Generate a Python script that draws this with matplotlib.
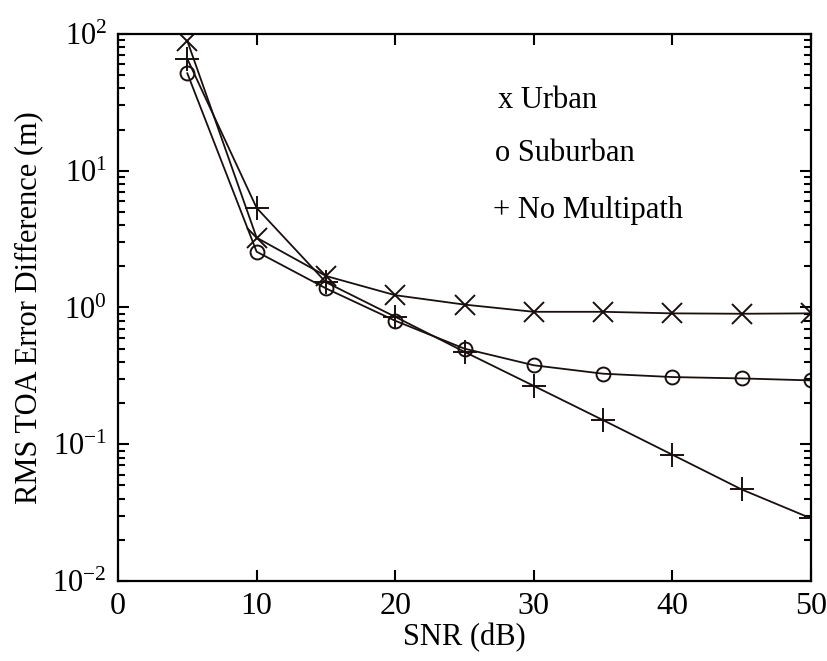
import math
import matplotlib
matplotlib.use('Agg')
import matplotlib.pyplot as plt
from matplotlib.ticker import FuncFormatter

# SNR in dB
snr = [5, 10, 15, 20, 25, 30, 35, 40, 45, 50]

# RMS TOA error difference (m)
urban = [89, 3.24, 1.70, 1.23, 1.05, 0.93, 0.93, 0.906, 0.90, 0.906]
suburban = [51.6, 2.56, 1.38, 0.80, 0.50, 0.378, 0.328, 0.31, 0.303, 0.293]
no_multipath = [65.8, 5.35, 1.53, 0.855, 0.474, 0.267, 0.150, 0.0838, 0.0467, 0.0287]

plt.rcParams['font.family'] = ['Liberation Serif', 'DejaVu Serif']
plt.rcParams['mathtext.fontset'] = 'custom'
plt.rcParams['mathtext.rm'] = 'Liberation Serif'
plt.rcParams['mathtext.it'] = 'Liberation Serif:italic'
plt.rcParams['mathtext.bf'] = 'Liberation Serif:bold'

fig = plt.figure(figsize=(8.27, 6.61), dpi=100)
ax = fig.add_axes([0.1427, 0.121, 0.838, 0.8276])

col = '#1a0f0f'
ax.plot(snr, urban, color=col, lw=1.3, marker='x', ms=14, mew=1.4)
ax.plot(snr, suburban, color=col, lw=1.3, marker='o', ms=10, mew=1.4, mfc='none')
ax.plot(snr, no_multipath, color=col, lw=1.3, marker='+', ms=17, mew=1.4)

ax.set_yscale('log')
ax.set_xlim(0, 50)
ax.set_ylim(1e-2, 1e2)
ax.set_xticks([0, 10, 20, 30, 40, 50])


def log_label(v, pos):
    e = int(round(math.log10(v)))
    return r'$\mathregular{10^{%d}}$' % e


ax.yaxis.set_major_formatter(FuncFormatter(log_label))

ax.tick_params(which='both', direction='in', top=True, right=True, width=1.5, color='black')
ax.tick_params(axis='x', labelsize=23)
ax.tick_params(axis='y', labelsize=22)
ax.tick_params(which='major', length=8, pad=8)
ax.tick_params(which='minor', length=5)
for s in ax.spines.values():
    s.set_linewidth(1.6)

ax.set_xlabel('SNR (dB)', fontsize=22, labelpad=1)
ax.set_ylabel('RMS TOA Error Difference (m)', fontsize=22)
ax.yaxis.set_label_coords(-0.108, 0.5)

ax.text(0.548, 0.879, 'x Urban', transform=ax.transAxes, fontsize=22, va='center')
ax.text(0.544, 0.782, 'o Suburban', transform=ax.transAxes, fontsize=22, va='center')
ax.text(0.541, 0.678, '+ No Multipath', transform=ax.transAxes, fontsize=22, va='center')

plt.savefig('out.png', dpi=100)
